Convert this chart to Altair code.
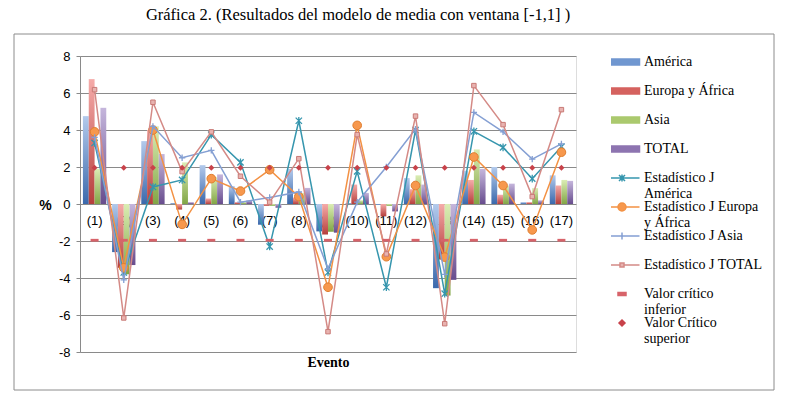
import altair as alt
import pandas as pd

# ---------------- data ----------------
eventos = ["(1)", "(2)", "(3)", "(4)", "(5)", "(6)", "(7)", "(8)", "(9)", "(10)",
           "(11)", "(12)", "(13)", "(14)", "(15)", "(16)", "(17)"]

bar_series = ["América", "Europa y África", "Asia", "TOTAL"]
america = [4.75, -2.6, 3.4, 0.05, 2.1, 0.97, -1.12, 1.9, -1.48, 0.05, -0.05, 1.4, -4.55, 1.8, 2.0, 0.1, 1.55]
europa = [6.75, -3.45, 4.0, -0.3, 0.3, 0.1, -0.1, 0.35, -1.65, 1.05, -0.67, 0.8, -3.0, 1.3, 0.5, 0.1, 1.0]
asia = [1.9, -3.8, 4.2, 2.25, 1.45, 0.1, -0.1, 0.6, -1.5, 0.2, -0.1, 1.55, -4.95, 2.95, 1.0, 0.86, 1.3]
total = [5.2, -3.3, 2.7, 0.1, 1.6, 0.2, -0.2, 0.87, -1.55, 0.6, -0.4, 1.05, -4.1, 1.9, 1.1, 0.2, 1.25]

j_series = ["Estadístico J América", "Estadístico J Europa y África",
            "Estadístico J Asia", "Estadístico J TOTAL"]
j_america = [3.3, -3.7, 0.92, 1.3, 3.75, 2.25, -2.3, 4.5, -3.7, 1.77, -4.5, 4.0, -4.85, 3.93, 3.06, 1.37, 3.1]
j_europa = [3.9, -3.45, 4.0, -1.1, 1.37, 0.7, 1.85, 0.4, -4.5, 4.25, -2.85, 1.0, -2.87, 2.54, 1.0, -1.4, 2.8]
j_asia = [3.6, -4.1, 4.2, 2.5, 2.9, 0.1, 0.35, 0.65, -3.5, 0.1, 2.0, 4.05, -3.8, 4.95, 3.9, 2.43, 3.25]
j_total = [6.18, -6.16, 5.5, 1.75, 3.9, 1.5, 0.1, 2.45, -6.9, 3.75, -2.7, 4.75, -6.47, 6.4, 4.29, 0.4, 5.1]

crit_series = ["Valor crítico inferior", "Valor Crítico superior"]
crit_inf = [-1.96] * 17
crit_sup = [1.96] * 17

y_ticks = [-8, -6, -4, -2, 0, 2, 4, 6, 8]
titulo = "Gráfica 2. (Resultados del modelo de media con ventana [-1,1] )"

# legend texts: first line / second line of each entry
legend_names = bar_series + j_series + crit_series
legend_line1 = ["América", "Europa y África", "Asia", "TOTAL",
                "Estadístico J", "Estadístico J Europa", "Estadístico J Asia", "Estadístico J TOTAL",
                "Valor crítico", "Valor Crítico"]
legend_line2 = ["", "", "", "", "América", "y África", "", "", "inferior", "superior"]
legend_keys2 = [n + " #2" for n in legend_names]

# ---------------- tables ----------------
bars = pd.DataFrame([
    {"evento": e, "serie": s, "valor": v}
    for s, vals in zip(bar_series, [america, europa, asia, total])
    for e, v in zip(eventos, vals)
])
jdf = pd.DataFrame([
    {"evento": e, "serie": s, "valor": v}
    for s, vals in zip(j_series, [j_america, j_europa, j_asia, j_total])
    for e, v in zip(eventos, vals)
])
crit = pd.DataFrame([
    {"evento": e, "serie": s, "valor": v}
    for s, vals in zip(crit_series, [crit_inf, crit_sup])
    for e, v in zip(eventos, vals)
])
legend_df = pd.DataFrame({"serie": legend_names, "serie2": legend_keys2,
                          "evento": eventos[:10], "valor": [0.0] * 10})


def label_map(keys, lines):
    expr = "''"
    for name, txt in zip(keys, lines):
        expr = f"datum.label == '{name}' ? '{txt}' : ({expr})"
    return expr


# ---------------- style ----------------
W, H = 496, 296
grey = "#8a8a8a"

x_enc = alt.X("evento:N", sort=eventos,
              scale=alt.Scale(domain=eventos, paddingInner=0.2, paddingOuter=0.1),
              axis=alt.Axis(title="Evento", domain=False, ticks=False, tickSize=0, grid=False,
                            labelAngle=0, labelFont="Liberation Sans", labelFontSize=13,
                            labelColor="black", labelPadding=10, offset=-H / 2,
                            titleFont="Liberation Serif", titleFontSize=14, titleFontWeight="bold",
                            titleColor="black", titleY=158, titleBaseline="middle"))
y_enc = alt.Y("valor:Q", stack=None,
              scale=alt.Scale(domain=[-8, 8], nice=False),
              axis=alt.Axis(values=y_ticks, grid=True, gridColor=grey, gridWidth=1,
                            domainColor=grey, tickColor=grey, tickSize=4,
                            labelFont="Liberation Sans", labelFontSize=13, labelColor="black",
                            labelPadding=6, labelExpr="'' + datum.value",
                            title="%", titleAngle=0, titleX=-35, titleY=149,
                            titleAlign="center", titleBaseline="middle",
                            titleFont="Liberation Sans", titleFontSize=14, titleFontWeight="bold",
                            titleColor="black"))

bar_grad = {
    "América": ("#B3CAEC", "#3B69AC"),
    "Europa y África": ("#F5ABA9", "#B63F3C"),
    "Asia": ("#DBEDB4", "#82A646"),
    "TOTAL": ("#C5B6DC", "#684D8E"),
}

frame = alt.Chart(alt.Data(values=[{"a": 1}])).mark_rect(
    fill="white", fillOpacity=0, stroke="#8c8c8c", strokeWidth=1
).encode(x=alt.value(-66), x2=alt.value(694), y=alt.value(-22), y2=alt.value(334))

layers = [frame]
for s in bar_series:
    top, bot = bar_grad[s]
    grad = alt.LinearGradient(gradient="linear",
                              stops=[alt.GradientStop(color=top, offset=0),
                                     alt.GradientStop(color=bot, offset=1)],
                              x1=0, x2=0, y1=0, y2=1)
    layers.append(
        alt.Chart(bars).transform_filter(alt.datum.serie == s).mark_bar(color=grad).encode(
            x=x_enc, y=y_enc,
            xOffset=alt.XOffset("serie:N", sort=bar_series,
                                scale=alt.Scale(domain=bar_series, paddingInner=0, paddingOuter=0)))
    )

asterisk = "M-1,-1L1,1M-1,1L1,-1M0,-1.2V1.2"
plus = "M-1,0H1M0,-1V1"
j_style = {
    "Estadístico J América": dict(color="#3696AE", point=alt.OverlayMarkDef(
        shape=asterisk, size=40, filled=False, color="#3696AE", strokeWidth=1.3)),
    "Estadístico J Europa y África": dict(color="#F39143", point=alt.OverlayMarkDef(
        shape="circle", size=75, filled=True, fill="#F7984D", stroke="#E07F30", strokeWidth=1)),
    "Estadístico J Asia": dict(color="#849FD3", point=alt.OverlayMarkDef(
        shape=plus, size=40, filled=False, color="#849FD3", strokeWidth=1.3)),
    "Estadístico J TOTAL": dict(color="#D48A86", point=alt.OverlayMarkDef(
        shape="square", size=20, filled=True, fill="#E8B3B0", stroke="#C97A76", strokeWidth=1)),
}
for s in j_series:
    st = j_style[s]
    layers.append(
        alt.Chart(jdf).transform_filter(alt.datum.serie == s).mark_line(
            color=st["color"], strokeWidth=1.5, point=st["point"]
        ).encode(x=x_enc, y=y_enc)
    )

dash = "M-1,-0.35H1V0.35H-1Z"
layers.append(
    alt.Chart(crit).transform_filter(alt.datum.serie == crit_series[0]).mark_point(
        shape=dash, size=64, filled=True, color="#D7636A", opacity=1
    ).encode(x=x_enc, y=y_enc)
)
layers.append(
    alt.Chart(crit).transform_filter(alt.datum.serie == crit_series[1]).mark_point(
        shape="diamond", size=36, filled=True, color="#C8424A", opacity=1
    ).encode(x=x_enc, y=y_enc)
)

# legend (one merged legend built from the scale domain) + a text-only legend
# that carries the second line of the wrapped labels
leg_fill = ["#7097D0", "#D5625F", "#ABC96E", "#8D74B0",
            "#3696AE", "#F7984D", "#849FD3", "#E8B3B0", "#D7636A", "#C8424A"]
leg_stroke = ["#7097D0", "#D5625F", "#ABC96E", "#8D74B0",
              "#3696AE", "#F39143", "#849FD3", "#D48A86", "#D7636A", "#C8424A"]
leg_shape = [
    "M-1.75,-0.3H1.75V0.3H-1.75Z",
    "M-1.75,-0.3H1.75V0.3H-1.75Z",
    "M-1.75,-0.3H1.75V0.3H-1.75Z",
    "M-1.75,-0.3H1.75V0.3H-1.75Z",
    "M-1.75,0H1.75M-0.3,-0.3L0.3,0.3M-0.3,0.3L0.3,-0.3M0,-0.35V0.35",
    "M-1.75,0H-0.4M0.4,0H1.75M0.4,0A0.4,0.4 0 1,1 -0.4,0A0.4,0.4 0 1,1 0.4,0Z",
    "M-1.75,0H1.75M0,-0.35V0.35",
    "M-1.75,0H-0.2M0.2,0H1.75M-0.2,-0.2H0.2V0.2H-0.2Z",
    "M-0.4,-0.15H0.4V0.15H-0.4Z",
    "M0,-0.3L0.3,0L0,0.3L-0.3,0Z",
]
LEG_X, LEG_Y, ROW = 531, -8.5, 29
common = dict(title=None, orient="none", legendX=LEG_X, padding=0,
              symbolSize=400, symbolStrokeWidth=1.5,
              labelFont="Liberation Serif", labelFontSize=14, labelColor="black",
              labelOffset=11, labelLimit=300, rowPadding=0, clipHeight=ROW)
leg = alt.Legend(legendY=LEG_Y, symbolOpacity=1,
                 labelExpr=label_map(legend_names, legend_line1), **common)
leg2 = alt.Legend(legendY=LEG_Y + 15.5, symbolOpacity=0,
                  labelExpr=label_map(legend_keys2, legend_line2), **common)

layers.append(
    alt.Chart(legend_df).transform_filter("false").mark_point(filled=True).encode(
        x=x_enc, y=y_enc,
        fill=alt.Fill("serie:N", scale=alt.Scale(domain=legend_names, range=leg_fill), legend=leg),
        stroke=alt.Stroke("serie:N", scale=alt.Scale(domain=legend_names, range=leg_stroke), legend=leg),
        shape=alt.Shape("serie:N", scale=alt.Scale(domain=legend_names, range=leg_shape), legend=leg),
        strokeDash=alt.StrokeDash("serie2:N",
                                  scale=alt.Scale(domain=legend_keys2, range=[[1, 0]] * 10),
                                  legend=leg2),
    )
)

chart = alt.layer(*layers).properties(
    width=W, height=H,
    title=alt.TitleParams(text=titulo, font="Liberation Serif", fontSize=16.5, fontWeight="normal",
                          color="black", anchor="middle", frame="group", dx=30, dy=16, offset=13,
                          baseline="alphabetic"),
    autosize=alt.AutoSizeParams(type="none"),
    padding={"left": 72, "top": 48, "right": 211, "bottom": 47},
).configure_view(strokeWidth=0).configure(background="white")

chart.save("out.html", embed_options={"renderer": "svg", "actions": False})
